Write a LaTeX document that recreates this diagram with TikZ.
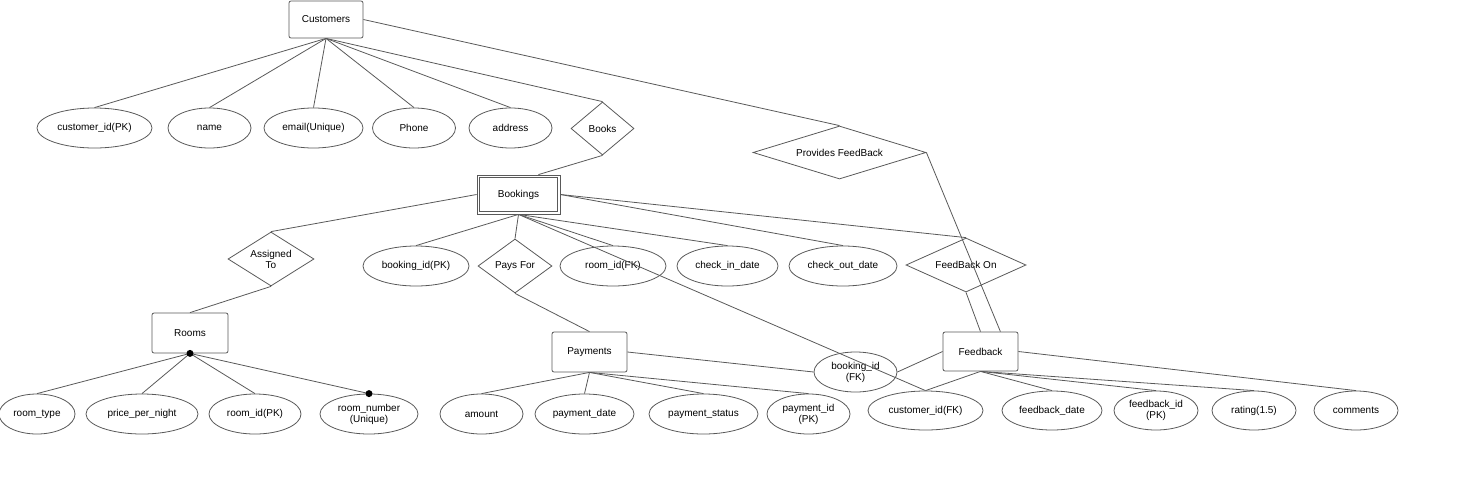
\documentclass[tikz,border=0pt]{standalone}
\usepackage{fontspec}
\setmainfont{Liberation Sans}
\usetikzlibrary{shapes.geometric}

\tikzset{
    entity/.style={draw=black!65,line width=.8pt,rounded corners=2pt,minimum width=75pt,minimum height=39pt,inner sep=0pt},
    attr/.style={draw=black!65,line width=.8pt,ellipse,minimum height=40pt,inner sep=0pt,align=center},
    rel/.style={draw=black!65,line width=.8pt,diamond,inner sep=0pt,align=center},
    link/.style={draw=black!65,line width=.8pt}
}

\begin{document}
\begin{tikzpicture}[x=1pt,y=-1pt,font=\fontsize{10}{11}\selectfont]
    \useasboundingbox (0,0) rectangle (1471,490);

    % entities
    \node[entity,minimum width=74pt,minimum height=37pt] (customers) at (326,19.5) {Customers};
    \node[entity,rounded corners=0pt,minimum width=83pt,minimum height=39pt] (bookings) at (518.5,194.5) {Bookings};
    \draw[link] ([shift={(3pt,-3pt)}]bookings.north west) rectangle ([shift={(-3pt,3pt)}]bookings.south east);
    \node[entity,minimum width=76pt,minimum height=40pt] (rooms) at (190,333) {Rooms};
    \node[entity,minimum height=40pt] (payments) at (589.5,352) {Payments};
    \node[entity] (feedback) at (980.5,351.5) {Feedback};

    % relationships
    \node[rel,minimum width=63pt,minimum height=53pt,shape aspect=1.2] (books) at (602.5,128.5) {Books};
    \node[rel,minimum width=173pt,minimum height=53pt,shape aspect=3.3] (provides) at (839.5,152.5) {Provides FeedBack};
    \node[rel,minimum width=86pt,minimum height=54pt,shape aspect=1.6] (assigned) at (271,259) {Assigned\\To};
    \node[rel,minimum width=74pt,minimum height=54pt,shape aspect=1.4] (paysfor) at (515,266) {Pays For};
    \node[rel,minimum width=120pt,minimum height=54pt,shape aspect=2.2] (feedbackon) at (966,265) {FeedBack On};

    % customer attributes
    \node[attr,minimum width=115pt] (cid) at (94.5,128) {customer\_id(PK)};
    \node[attr,minimum width=83pt] (cname) at (209.5,128) {name};
    \node[attr,minimum width=99pt] (cemail) at (313.5,128) {email(Unique)};
    \node[attr,minimum width=83pt] (cphone) at (414,128) {Phone};
    \node[attr,minimum width=83pt] (caddr) at (510.5,128) {address};

    % booking attributes
    \node[attr,minimum width=106pt] (bid) at (416,266) {booking\_id(PK)};
    \node[attr,minimum width=106pt] (broom) at (613,266) {room\_id(FK)};
    \node[attr,minimum width=101pt] (bin) at (727.5,266) {check\_in\_date};
    \node[attr,minimum width=108pt] (bout) at (843,266) {check\_out\_date};

    % room attributes
    \node[attr,minimum width=76pt] (rtype) at (37,414) {room\_type};
    \node[attr,minimum width=112pt] (rprice) at (142,414) {price\_per\_night};
    \node[attr,minimum width=92pt] (rid) at (255,414) {room\_id(PK)};
    \node[attr,minimum width=98pt] (rnum) at (369,414) {room\_number\\(Unique)};

    % payment attributes
    \node[attr,minimum width=83pt] (pamount) at (481.5,414) {amount};
    \node[attr,minimum width=99pt] (pdate) at (584.5,414) {payment\_date};
    \node[attr,minimum width=109pt] (pstatus) at (703.5,414) {payment\_status};
    \node[attr,minimum width=83pt] (pid) at (808.5,414) {payment\_id\\(PK)};
    \node[attr,minimum width=83pt] (bookingfk) at (855.5,372) {booking\_id\\(FK)};

    % feedback attributes
    \node[attr,minimum width=115pt,minimum height=39pt] (fcust) at (925.5,410.5) {customer\_id(FK)};
    \node[attr,minimum width=100pt,minimum height=39pt] (fdate) at (1052,410.5) {feedback\_date};
    \node[attr,minimum width=84pt,minimum height=39pt] (fid) at (1156,410.5) {feedback\_id\\(PK)};
    \node[attr,minimum width=84pt,minimum height=39pt] (frating) at (1254,410.5) {rating(1.5)};
    \node[attr,minimum width=84pt,minimum height=39pt] (fcomm) at (1356,410.5) {comments};

    % Customers links
    \foreach \a in {cid,cname,cemail,cphone,caddr,books}
        \draw[link] (customers.south) -- (\a.north);
    \draw[link] (customers.east) -- (provides.north);
    \draw[link] (provides.east) -- (feedback.45);
    \draw[link] (books.south) -- (bookings.45);

    % Bookings links
    \draw[link] (bookings.west) -- (assigned.north);
    \draw[link] (assigned.south) -- (rooms.north);
    \foreach \a in {bid,paysfor,broom,bin,fcust}
        \draw[link] (bookings.south) -- (\a.north);
    \draw[link] (bookings.east) -- (bout.north);
    \draw[link] (bookings.east) -- (feedbackon.north);
    \draw[link] (paysfor.south) -- (payments.north);
    \draw[link] (feedbackon.south) -- (feedback.north);

    % Rooms links
    \foreach \a in {rtype,rprice,rid,rnum}
        \draw[link] (rooms.south) -- (\a.north);
    \fill (rooms.south) circle (3.5pt);
    \fill (rnum.north) circle (3.5pt);

    % Payments links
    \foreach \a in {pamount,pdate,pstatus,pid}
        \draw[link] (payments.south) -- (\a.north);
    \draw[link] (payments.east) -- (bookingfk.west);

    % Feedback links
    \draw[link] (feedback.west) -- (bookingfk.east);
    \foreach \a in {fcust,fdate,fid,frating}
        \draw[link] (feedback.south) -- (\a.north);
    \draw[link] (feedback.east) -- (fcomm.north);
\end{tikzpicture}
\end{document}
